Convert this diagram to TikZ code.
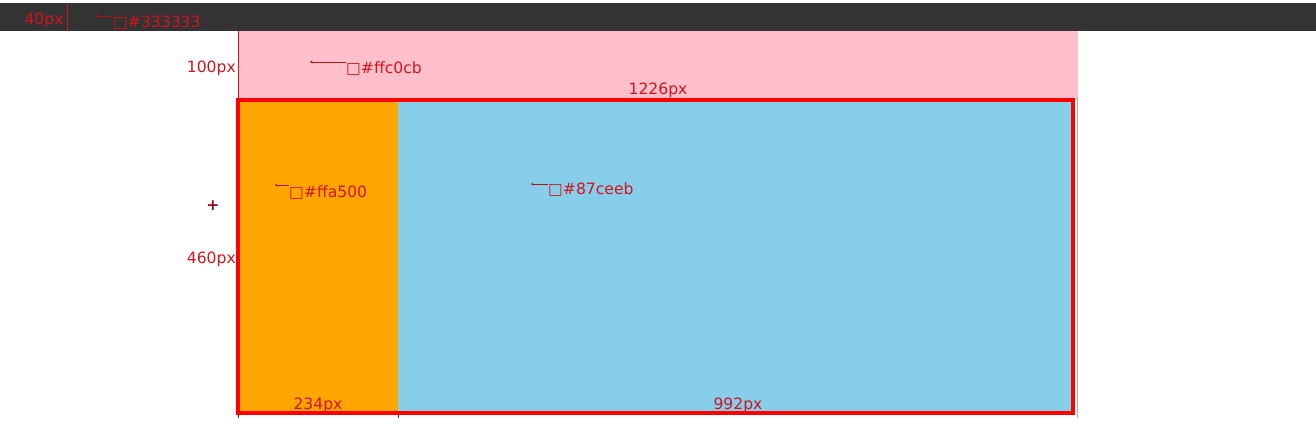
\documentclass[tikz,border=0pt]{standalone}
\usepackage{fontspec}
\setmainfont{DejaVu Sans}
\usetikzlibrary{arrows.meta}

\definecolor{headbar}{HTML}{333333}
\definecolor{pinkbox}{HTML}{FFC0CB}
\definecolor{orangebox}{HTML}{FFA500}
\definecolor{bluebox}{HTML}{87CEEB}
\definecolor{marker}{HTML}{D2141E}
\definecolor{plus}{HTML}{8B0A1E}

\begin{document}
\begin{tikzpicture}[x=1pt, y=-1pt,
	font=\fontsize{15.6}{18}\selectfont,
	dim/.style={text=marker, inner sep=0pt, anchor=base},
	hex/.style={text=marker, inner sep=0pt, anchor=base west},
	pointer/.style={draw=marker!85!black, line width=0.8pt, {Stealth[length=2.5pt,width=3pt]}-}]
	\useasboundingbox (0,0) rectangle (1316,424);
	
	% boxes
	\fill [headbar] (0,3) rectangle (1316,31);
	\fill [pinkbox] (238,31) rectangle (1078,100);
	\fill [orangebox] (238,100) rectangle (398,413);
	\fill [bluebox] (398,100) rectangle (1073,413);
	
	\draw [marker, line width=0.8pt] (67,3) -- (67,31);
	\draw [marker, line width=0.6pt] (238,31) -- (238,100);
	\draw [gray!60, line width=0.5pt] (1077,97) -- (1077,418);
	\foreach \x in {238,398}
	\draw [marker!70!black, line width=0.6pt] (\x,413) -- (\x,418);
	\draw [red, line width=3.3pt] (238,100) rectangle (1073,413);
	
	% sizes
	\node [dim] (size-bar) at (44,24) {40px};
	\node [dim, anchor=base east] (size-pink) at (236,72) {100px};
	\node [dim] (size-width) at (658,94) {1226px};
	\node [dim, anchor=base east] (size-main) at (236,263) {460px};
	\node [text=plus, inner sep=0pt] (size-plus) at (213,206) {\textbf{+}};
	\node [dim] (size-orange) at (318,409) {234px};
	\node [dim] (size-blue) at (738,409) {992px};
	
	% colour names
	\foreach \c/\x/\y/\len/\ly in {333333/113/27/17/16, ffc0cb/346/73/36/62, ffa500/289/197/14/185, 87ceeb/548/194/17/184}
	{
		\node [hex] (hex-\c) at (\x,\y) {□\#\c};
		\coordinate (tip-\c) at (\x-\len,\ly);
		\draw [pointer] (tip-\c) -- (tip-\c -| hex-\c.west);
	}
\end{tikzpicture}
\end{document}
